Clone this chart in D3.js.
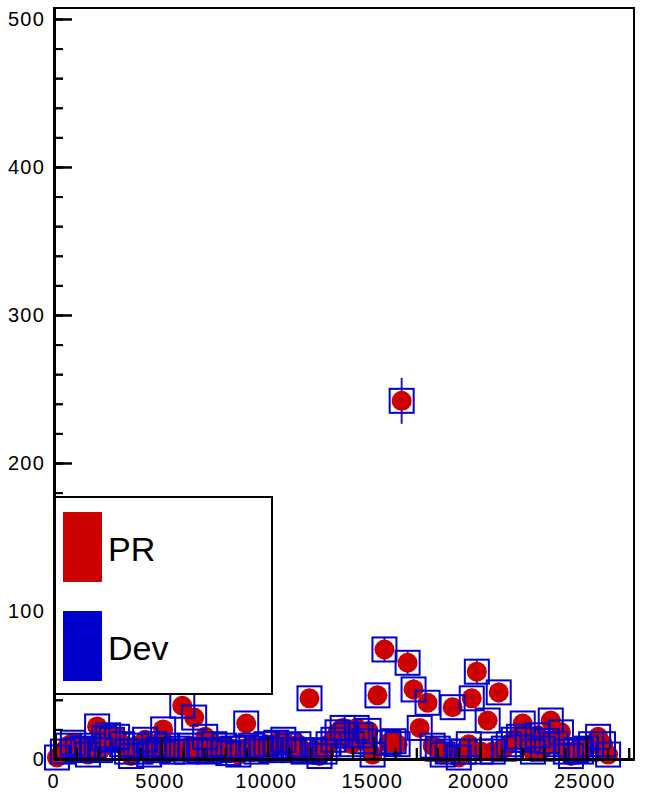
<!DOCTYPE html>
<html>
<head>
<meta charset="utf-8">
<script src="https://cdn.jsdelivr.net/npm/d3@7"></script>
<style>
  body { margin: 0; background: #fff; }
  svg { font-family: "Liberation Sans", Arial, sans-serif; }
</style>
</head>
<body>
<div id="wrapper"></div>
<script>
// positions along the x axis
const positions = [80, 360, 600, 830, 1070, 1310, 1540, 1780, 1970, 2110, 2300, 2490, 2670, 2910, 3150,
    3380, 3570, 3810, 4000, 4230, 4420, 4660, 4840, 5080, 5270, 5500, 5740, 5980, 6170, 6350, 6540,
    6780, 7060, 7250, 7490, 7720, 7960, 8150, 8380, 8620, 8810, 8990, 9230, 9470, 9700, 9940, 10170,
    10410, 10740, 10980, 11210, 11450, 11690, 11970, 12200, 12440, 12680, 12870, 13100, 13290, 13530,
    13710, 13950, 14190, 14370, 14560, 14750, 14940, 15170, 15500, 15690, 15930, 16120, 16310, 16590,
    16870, 17160, 17530, 17770, 18010, 18240, 18480, 18710, 19000, 19230, 19470, 19610, 19850, 20030,
    20360, 20600, 20880, 21120, 21350, 21590, 21830, 22010, 22250, 22490, 22720, 22960, 23150, 23330,
    23570, 23810, 24040, 24280, 24520, 24750, 24990, 25230, 25560, 25790, 26030];

const prCounts = [1, 5, 9, 11, 6, 7, 3, 9, 22, 6, 14, 16, 13, 15, 10,
    5, 2, 9, 5, 13, 3, 10, 6, 20, 9, 5, 7, 36, 5, 9, 28,
    6, 15, 5, 10, 6, 9, 4, 7, 3, 7, 24, 9, 5, 7, 10, 6,
    11, 13, 9, 6, 10, 5, 41, 6, 2, 5, 10, 13, 18, 21,
    16, 10, 21, 16, 12, 19, 3, 43, 74, 11, 12, 10, 242, 65,
    47, 21, 38, 9, 7, 3, 5, 35, 1, 5, 10, 41, 59, 5,
    26, 5, 45, 7, 10, 13, 15, 24, 13, 5, 16, 7, 12, 26,
    10, 18, 5, 2, 6, 5, 7, 10, 15, 10, 3];

const devCounts = prCounts;

const seriesLabels = ["PR", "Dev"];
const seriesColors = ["#cc0000", "#0000cc"];

const xTicksMajor = [0, 5000, 10000, 15000, 20000, 25000];
const yTicksMajor = [0, 100, 200, 300, 400, 500];

const dimension = {
    width: 646,
    height: 794,
    margin: { top: 8, left: 54, bottom: 35, right: 12 }
};
dimension.boundedWidth = dimension.width - dimension.margin.left - dimension.margin.right;
dimension.boundedHeight = dimension.height - dimension.margin.top - dimension.margin.bottom;

const svg = d3.select("#wrapper").append("svg")
    .attr("width", dimension.width)
    .attr("height", dimension.height);

const bounded = svg.append("g")
    .attr("transform", `translate(${dimension.margin.left},${dimension.margin.top})`);

const xScaler = d3.scaleLinear()
    .domain([-60, 27250])
    .range([0, dimension.boundedWidth]);

const yScaler = d3.scaleLinear()
    .domain([0, 507.4])
    .range([dimension.boundedHeight, 0]);

// frame
bounded.append("rect")
    .attr("width", dimension.boundedWidth)
    .attr("height", dimension.boundedHeight)
    .attr("fill", "none")
    .attr("stroke", "#000")
    .attr("stroke-width", 2);

function drawAxes(withLabels) {
    const g = bounded.append("g");
    const xMinor = d3.axisBottom(xScaler).tickValues(d3.range(0, 27001, 1000))
        .tickSizeInner(-11).tickSizeOuter(0).tickFormat("");
    const xMajor = d3.axisBottom(xScaler).tickValues(xTicksMajor)
        .tickSizeInner(-22).tickSizeOuter(0).tickPadding(15)
        .tickFormat(withLabels ? d3.format("d") : "");
    const yMinor = d3.axisLeft(yScaler).tickValues(d3.range(0, 501, 20))
        .tickSizeInner(-9).tickSizeOuter(0).tickFormat("");
    const yMajor = d3.axisLeft(yScaler).tickValues(yTicksMajor)
        .tickSizeInner(-18).tickSizeOuter(0).tickPadding(7)
        .tickFormat(withLabels ? d3.format("d") : "");

    [xMinor, xMajor].forEach(ax => {
        g.append("g").attr("transform", `translate(0,${dimension.boundedHeight})`).call(ax);
    });
    [yMinor, yMajor].forEach(ax => g.append("g").call(ax));

    g.selectAll(".domain").attr("stroke", "#000").attr("stroke-width", 2.5);
    g.selectAll(".tick line").attr("stroke", "#000").attr("stroke-width", 2);
    g.selectAll(".tick text")
        .attr("fill", "#000")
        .style("font-size", "20px")
        .style("letter-spacing", "1.2px");
    g.selectAll("text").attr("dx", "-2");
    return g;
}

drawAxes(true);

const points = positions.map((p, i) => ({ x: p, pr: prCounts[i], dev: devCounts[i] }));

// error bars
bounded.append("g").selectAll("line")
    .data(points)
    .join("line")
    .attr("x1", d => xScaler(d.x))
    .attr("x2", d => xScaler(d.x))
    .attr("y1", d => yScaler(d.pr + Math.sqrt(d.pr)))
    .attr("y2", d => yScaler(Math.max(0, d.pr - Math.sqrt(d.pr))))
    .attr("stroke", "#2222aa")
    .attr("stroke-width", 2);

// PR markers
bounded.append("g").selectAll("circle")
    .data(points)
    .join("circle")
    .attr("cx", d => xScaler(d.x))
    .attr("cy", d => yScaler(d.pr))
    .attr("r", 10)
    .attr("fill", seriesColors[0]);

// Dev markers
bounded.append("g").selectAll("rect")
    .data(points)
    .join("rect")
    .attr("x", d => xScaler(d.x) - 12)
    .attr("y", d => yScaler(d.dev) - 12)
    .attr("width", 24)
    .attr("height", 24)
    .attr("fill", "none")
    .attr("stroke", seriesColors[1])
    .attr("stroke-width", 2);

// axis lines on top of markers
drawAxes(false);

// legend
const legend = svg.append("g").attr("transform", "translate(55,497)");
legend.append("rect")
    .attr("width", 217)
    .attr("height", 197)
    .attr("fill", "#fff")
    .attr("stroke", "#000")
    .attr("stroke-width", 2);

seriesLabels.forEach((label, i) => {
    const row = legend.append("g").attr("transform", `translate(0,${i * 99})`);
    row.append("rect")
        .attr("x", 8).attr("y", 15)
        .attr("width", 39).attr("height", 70)
        .attr("fill", seriesColors[i]);
    row.append("text")
        .attr("x", 53).attr("y", 64)
        .style("font-size", "34px")
        .attr("fill", "#000")
        .text(label);
});
</script>
</body>
</html>
